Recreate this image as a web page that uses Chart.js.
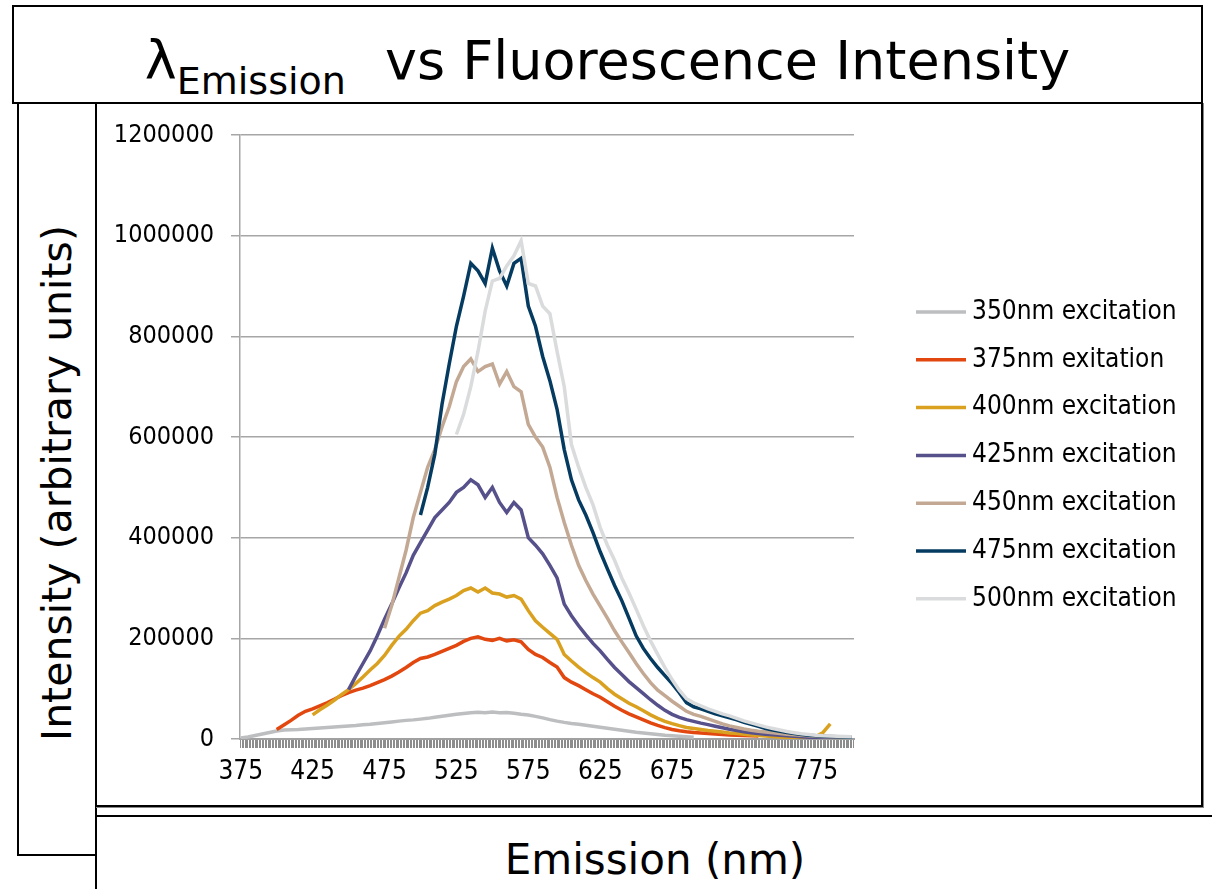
<!DOCTYPE html>
<html>
<head>
<meta charset="utf-8">
<script src="https://cdn.jsdelivr.net/npm/chart.js@4.4.1/dist/chart.umd.min.js"></script>
<style>
  body { margin: 0; background: #fff; width: 1212px; height: 889px; overflow: hidden; position: relative; font-family: 'DejaVu Sans', sans-serif; color: #000; }
  .box { position: absolute; box-sizing: border-box; border: 2px solid #000; }
  #title { left: 12px; top: 5px; width: 1191px; height: 99px; text-align: center; font-size: 54px; line-height: 54px; padding-top: 27px; white-space: nowrap; }
  #title .sub { font-size: 38px; position: relative; top: 15px; margin-right: 22px; }
  #ybox { left: 17px; top: 102px; width: 80px; height: 754px; }
  #plotbox { left: 95px; top: 102px; width: 1108px; height: 705px; box-shadow: 1px 1px 0 #888; }
  #xbox { left: 95px; top: 815px; width: 1200px; height: 200px; border-right: none; border-bottom: none; }
  #ytitle { position: absolute; left: -243px; top: 458px; width: 600px; height: 50px; line-height: 50px; text-align: center; font-size: 41px; transform: rotate(-90deg); white-space: nowrap; }
  #xtitle { position: absolute; left: 355px; top: 835px; width: 600px; height: 50px; line-height: 50px; text-align: center; font-size: 42px; }
  #chart { position: absolute; left: 96px; top: 103px; }
</style>
</head>
<body>
<div class="box" id="ybox"></div>
<div class="box" id="plotbox"></div>
<div class="box" id="xbox"></div>
<div class="box" id="title">λ<span class="sub">Emission</span> vs Fluorescence Intensity</div>
<div id="ytitle">Intensity (arbitrary units)</div>
<div id="xtitle">Emission (nm)</div>
<canvas id="chart" width="1106" height="703"></canvas>

<script>
// Emission wavelengths (nm), one value every 5 nm
const wavelengths = [
  375, 380, 385, 390, 395, 400, 405, 410, 415, 420, 425, 430, 435, 440, 445, 450, 455, 460, 465, 470,
  475, 480, 485, 490, 495, 500, 505, 510, 515, 520, 525, 530, 535, 540, 545, 550, 555, 560, 565, 570,
  575, 580, 585, 590, 595, 600, 605, 610, 615, 620, 625, 630, 635, 640, 645, 650, 655, 660, 665, 670,
  675, 680, 685, 690, 695, 700, 705, 710, 715, 720, 725, 730, 735, 740, 745, 750, 755, 760, 765, 770,
  775, 780, 785, 790, 795, 800
];

const seriesLabels = [
  '350nm excitation', '375nm exitation', '400nm excitation', '425nm excitation',
  '450nm excitation', '475nm excitation', '500nm excitation'
];
const seriesColors = ['#bcbec0', '#e2470f', '#d9a11f', '#56508b', '#c3a994', '#053b60', '#dadbdc'];

const ex350 = [
  2000, 4000, 7000, 10000, 13000, 16000, 18000, 18500, 19000, 20000, 21000, 22000, 23000, 24000, 25000, 26000, 27000, 28500, 29500, 31000,
  32500, 34000, 35500, 37000, 38000, 39500, 41000, 43000, 45000, 47000, 49000, 50500, 52000, 53000, 52000, 53500, 52000, 52500, 51000, 49000,
  47500, 45000, 42000, 38500, 35500, 33000, 31000, 29500, 27500, 25500, 23500, 21500, 19500, 17500, 15500, 13500, 12000, 10500, 9000, 7500,
  6500, 5500, 4500, 3500, null, null, null, null, null, null, null, null, null, null, null, null, null, null, null, null,
  null, null, null, null, null, null
];
const ex375 = [
  null, null, null, null, null, 19000, 28000, 37000, 47000, 55000, 60000, 66000, 72000, 79000, 86000, 92000, 97000, 101000, 106000, 112000,
  118000, 125000, 133000, 142000, 152000, 160000, 163000, 168000, 174000, 180000, 186000, 194000, 200000, 203000, 198000, 196000, 200000, 195000, 197000, 193000,
  178000, 168000, 162000, 152000, 143000, 122000, 113000, 106000, 98000, 90000, 83000, 74000, 65000, 57000, 50000, 44000, 38000, 32000, 27000, 22500,
  19000, 16500, 14500, 13000, 12000, 11000, 10000, 9000, 8000, 7500, 7000, 6500, 6000, null, null, null, null, null, null, null,
  null, null, null, null, null, null
];
const ex400 = [
  null, null, null, null, null, null, null, null, null, null, 48000, 58000, 67000, 77000, 88000, 98000, 110000, 123000, 137000, 150000,
  166000, 186000, 204000, 218000, 235000, 250000, 255000, 265000, 272000, 278000, 285000, 295000, 300000, 292000, 300000, 290000, 288000, 282000, 285000, 278000,
  255000, 235000, 222000, 210000, 198000, 168000, 155000, 143000, 132000, 122000, 113000, 100000, 89000, 80000, 71000, 64000, 56000, 48000, 41000, 35000,
  30500, 26500, 23000, 21000, 19000, 17000, 15500, 14000, 12000, 11000, 9500, 8000, 7000, 6000, 5000, 4000, 3500, 3000, 3000, 3500,
  5000, 13000, 30000, null, null, null
];
const ex425 = [
  null, null, null, null, null, null, null, null, null, null, null, null, null, null, null, 98000, 125000, 150000, 175000, 205000,
  238000, 268000, 300000, 330000, 365000, 390000, 415000, 440000, 455000, 470000, 490000, 500000, 515000, 505000, 480000, 500000, 470000, 450000, 470000, 455000,
  400000, 385000, 368000, 345000, 320000, 268000, 245000, 225000, 207000, 190000, 175000, 158000, 142000, 128000, 114000, 102000, 90000, 78000, 67000, 57000,
  49000, 43000, 38500, 35000, 31500, 28500, 25500, 22500, 19500, 17000, 14500, 12500, 11000, 9500, 8500, 7500, 6500, 5500, 4500, 3500,
  3000, 2500, 2000, 2000, 1500, 1500
];
const ex450 = [
  null, null, null, null, null, null, null, null, null, null, null, null, null, null, null, null, null, null, null, null,
  220000, 265000, 320000, 375000, 440000, 490000, 540000, 575000, 620000, 660000, 710000, 740000, 755000, 730000, 740000, 745000, 705000, 730000, 700000, 690000,
  625000, 600000, 580000, 540000, 480000, 430000, 385000, 345000, 315000, 288000, 264000, 240000, 215000, 193000, 172000, 150000, 130000, 112000, 97000, 86000,
  75000, 65000, 55000, 49000, 45000, 40000, 35000, 30000, 26000, 23000, 20000, 17500, 15500, 14000, 12500, 11000, 9500, 8500, 7500, 6500,
  5500, 5000, 4500, 4000, 3500, 3000
];
const ex475 = [
  null, null, null, null, null, null, null, null, null, null, null, null, null, null, null, null, null, null, null, null,
  null, null, null, null, null, 445000, 500000, 566000, 665000, 745000, 820000, 880000, 945000, 930000, 905000, 975000, 930000, 900000, 945000, 955000,
  860000, 820000, 760000, 712000, 655000, 575000, 515000, 475000, 445000, 410000, 372000, 338000, 305000, 275000, 240000, 205000, 180000, 160000, 142000, 126000,
  110000, 92000, 72000, 64000, 60000, 55000, 50000, 46000, 42000, 38000, 33000, 29000, 25000, 21000, 18000, 15500, 13000, 11000, 9000, 7500,
  6500, 5500, 5000, 4500, 4000, 3500
];
const ex500 = [
  null, null, null, null, null, null, null, null, null, null, null, null, null, null, null, null, null, null, null, null,
  null, null, null, null, null, null, null, null, null, null, 605000, 645000, 700000, 770000, 850000, 910000, 915000, 940000, 960000, 990000,
  905000, 900000, 860000, 845000, 770000, 700000, 585000, 540000, 500000, 465000, 420000, 385000, 355000, 320000, 290000, 258000, 225000, 195000, 168000, 142000,
  118000, 97000, 80000, 72000, 66000, 60000, 55000, 50000, 46000, 41000, 36000, 32000, 28000, 24000, 21000, 18000, 15000, 12500, 10500, 9000,
  7500, 6500, 6000, 5500, 5000, 4500
];

const xTickLabels = [375, 425, 475, 525, 575, 625, 675, 725, 775];
const yMax = 1200000;
const yStep = 200000;

const allSeries = [ex350, ex375, ex400, ex425, ex450, ex475, ex500];

const tickFont = "'DejaVu Sans Condensed', 'DejaVu Sans', sans-serif";

// legend drawn at the right of the plot, like the original
const sideLegend = {
  id: 'sideLegend',
  afterDraw(chart) {
    const ctx = chart.ctx;
    ctx.save();
    ctx.font = '26px ' + tickFont;
    ctx.textBaseline = 'middle';
    ctx.textAlign = 'left';
    chart.data.datasets.forEach((ds, i) => {
      const y = 209 + i * 47.8;
      ctx.strokeStyle = ds.borderColor;
      ctx.lineWidth = 3.5;
      ctx.beginPath();
      ctx.moveTo(820, y);
      ctx.lineTo(870, y);
      ctx.stroke();
      ctx.fillStyle = '#000';
      ctx.fillText(ds.label, 876, y);
    });
    ctx.restore();
  }
};

const datasets = allSeries.map((vals, i) => ({
  label: seriesLabels[i],
  data: wavelengths.map((w, j) => ({ x: w, y: vals[j] })),
  borderColor: seriesColors[i],
  backgroundColor: seriesColors[i],
  borderWidth: 3.5,
  pointRadius: 0,
  tension: 0,
  fill: false,
  order: allSeries.length - i
}));

new Chart(document.getElementById('chart'), {
  type: 'line',
  data: { datasets: datasets },
  options: {
    responsive: false,
    animation: false,
    events: [],
    layout: { padding: { top: 30, right: 348, bottom: 0, left: 0 } },
    plugins: {
      legend: { display: false },
      tooltip: { enabled: false }
    },
    scales: {
      x: {
        type: 'linear',
        min: 374.5,
        max: 801.5,
        afterBuildTicks: (scale) => {
          const ticks = [];
          for (let w = 375; w <= 801; w++) ticks.push({ value: w });
          scale.ticks = ticks;
        },
        afterFit: (scale) => { scale.height = 67; },
        ticks: {
          autoSkip: false,
          maxRotation: 0,
          minRotation: 0,
          padding: 9,
          color: '#000',
          font: { family: tickFont, size: 26 },
          callback: (value) => xTickLabels.includes(value) ? String(value) : ''
        },
        grid: { drawOnChartArea: false, tickLength: 9, tickColor: '#8c8c8c', lineWidth: 1 },
        border: { color: '#a0a0a0', width: 2 }
      },
      y: {
        min: 0,
        max: yMax,
        afterFit: (scale) => { scale.width = 144; },
        ticks: {
          stepSize: yStep,
          padding: 17,
          color: '#000',
          font: { family: tickFont, size: 25 },
          callback: (value) => String(value)
        },
        grid: { color: '#a6a6a6', lineWidth: 1.5, tickLength: 9 },
        border: { color: '#a6a6a6', width: 1.5 }
      }
    }
  },
  plugins: [sideLegend]
});
</script>
</body>
</html>
